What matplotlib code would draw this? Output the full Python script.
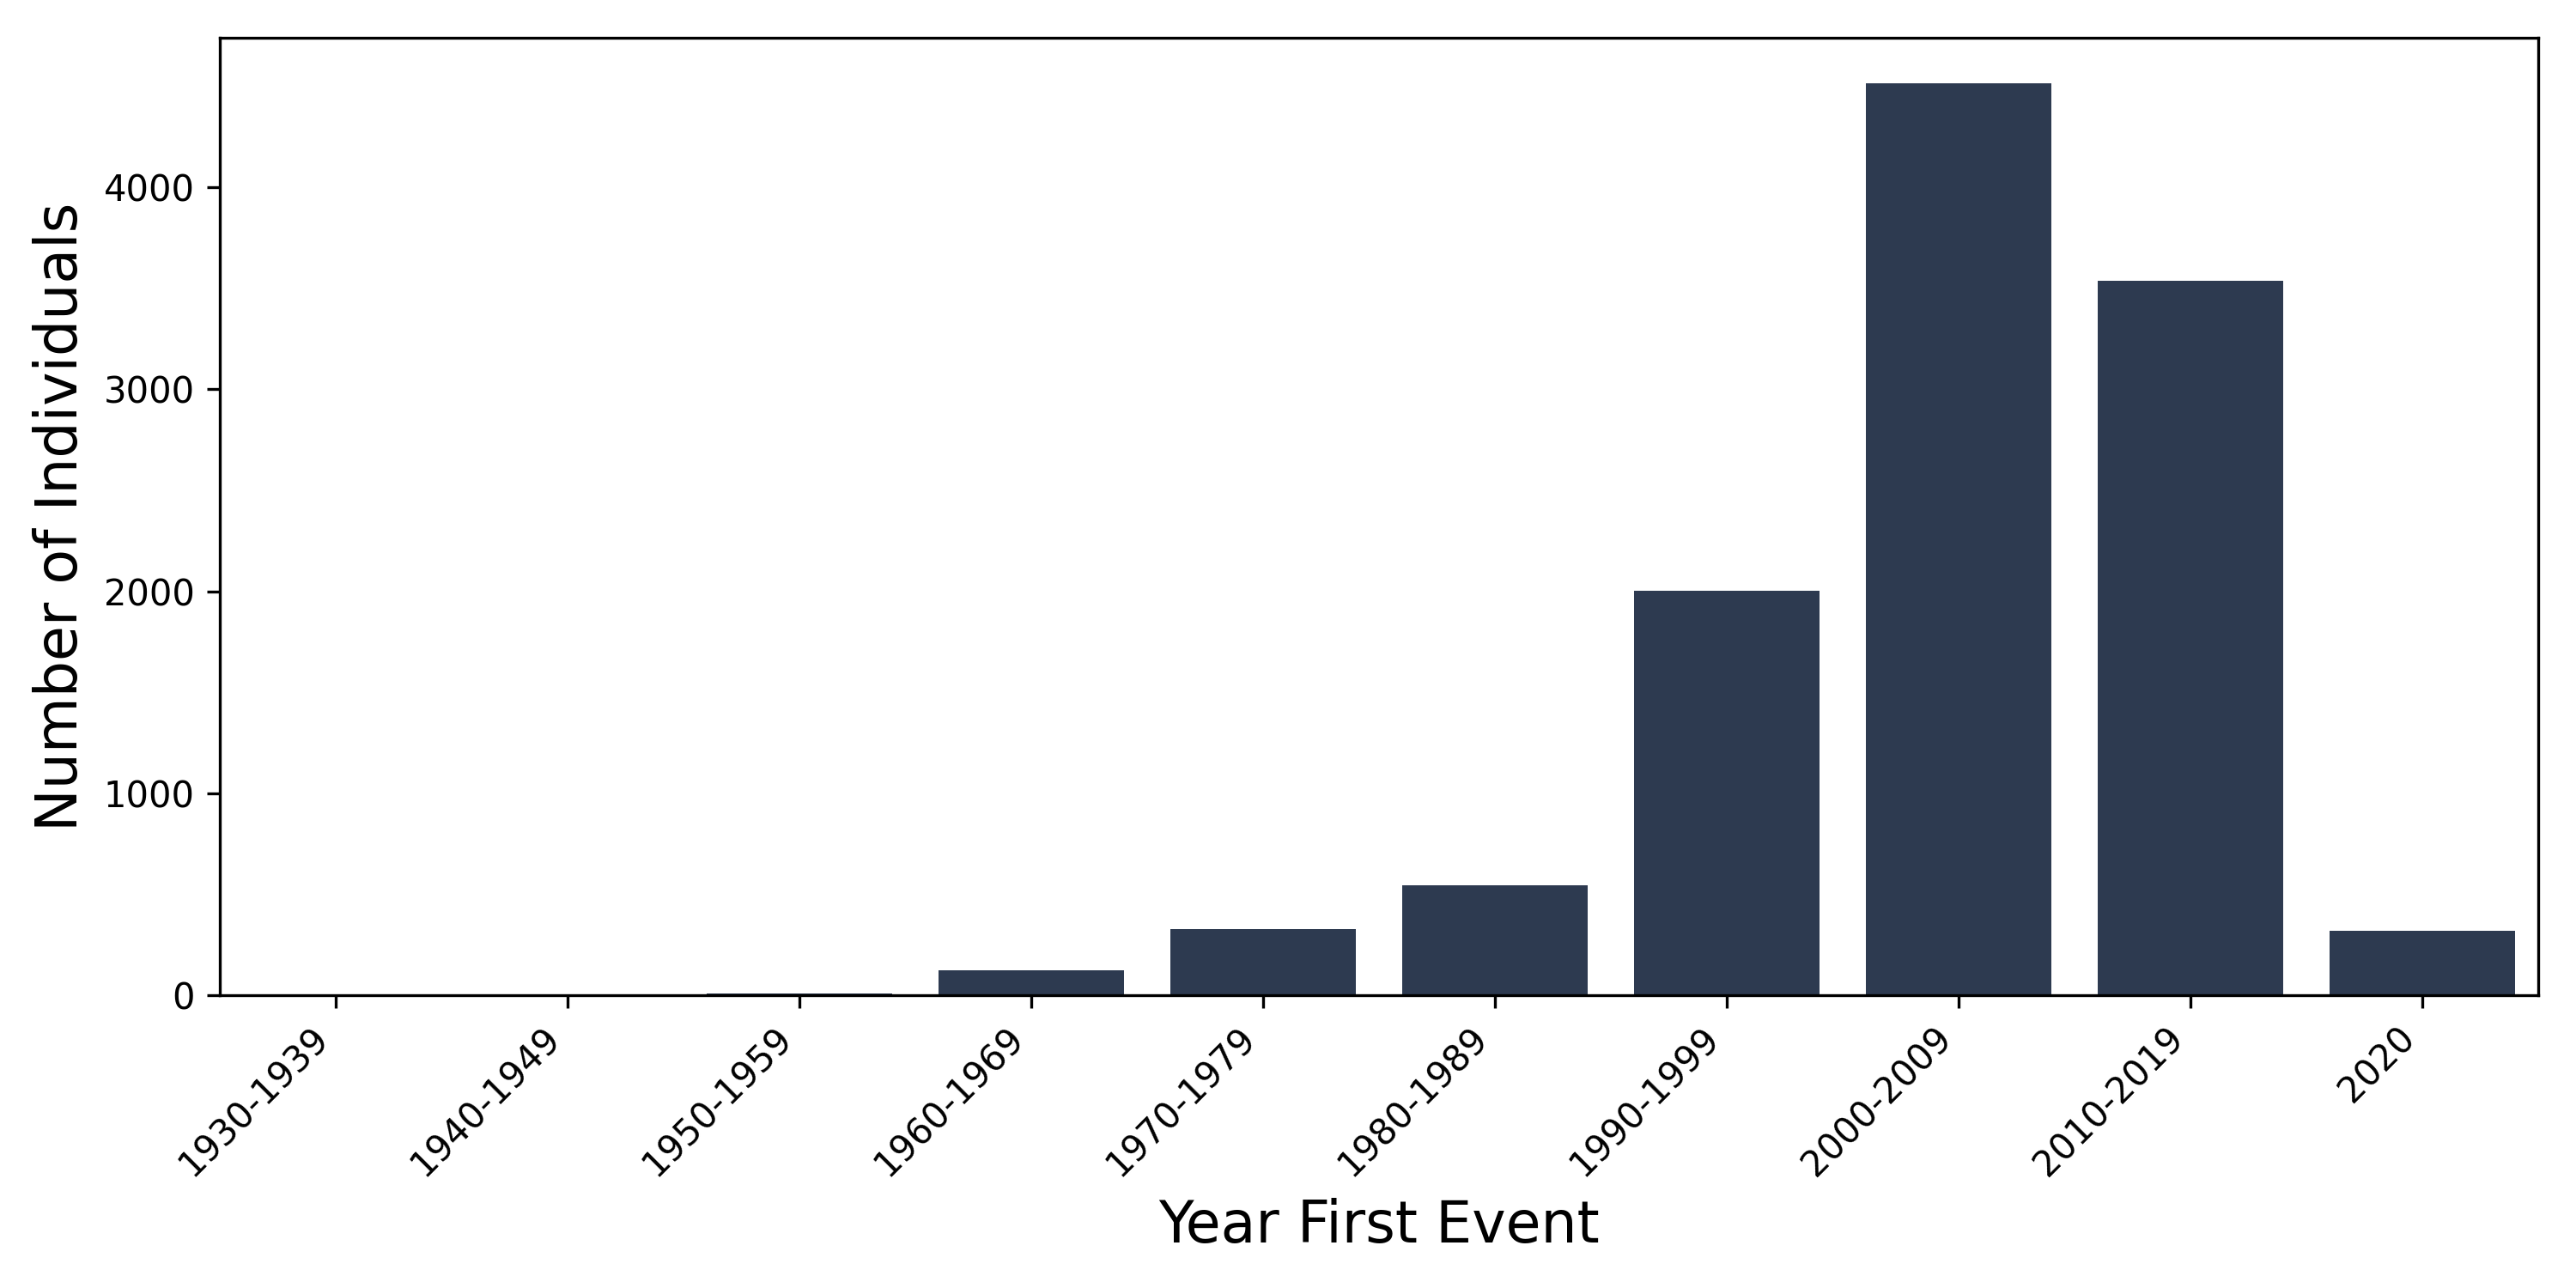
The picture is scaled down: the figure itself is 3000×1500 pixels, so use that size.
import matplotlib
matplotlib.use("Agg")
import matplotlib.pyplot as plt
import numpy as np

categories = ["1930-1939", "1940-1949", "1950-1959", "1960-1969", "1970-1979",
              "1980-1989", "1990-1999", "2000-2009", "2010-2019", "2020"]
counts = [1, 2, 8, 121, 325, 542, 2003, 4516, 3536, 316]

bar_color = "#2d3a50"

fig = plt.figure(figsize=(10, 5), dpi=300)
ax = fig.add_axes([0.0853, 0.2275, 0.9, 0.7432])

x = np.arange(len(categories))
ax.bar(x, counts, width=0.8, color=bar_color)
ax.set_xlim(-0.5, len(categories) - 0.5)
ax.set_xticks(x)
ax.set_xticklabels(categories, rotation=45, ha="right", fontsize=10)
ax.tick_params(axis="y", labelsize=10)
ax.set_yticks([0, 1000, 2000, 3000, 4000])

ax.set_xlabel("Year First Event", fontsize=16)
ax.set_ylabel("Number of Individuals", fontsize=16)

fig.savefig("out.png", dpi=300)
